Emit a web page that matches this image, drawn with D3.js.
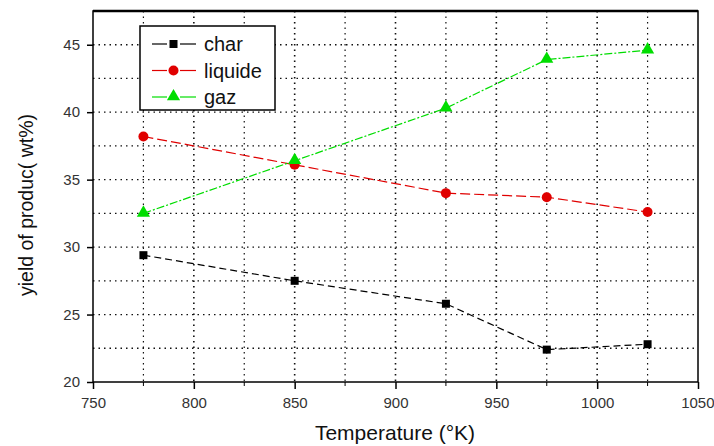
<!DOCTYPE html>
<html>
<head>
<meta charset="utf-8">
<script src="https://cdn.jsdelivr.net/npm/d3@7"></script>
<style>
  body { margin: 0; background: #fff; }
  text { font-family: "Liberation Sans", Arial, sans-serif; }
</style>
</head>
<body>
<svg id="chart" width="714" height="446"></svg>
<script>
// values
const temperatures = [775, 850, 925, 975, 1025];
const charValues = [29.4, 27.5, 25.8, 22.4, 22.8];
const liquideValues = [38.2, 36.1, 34.0, 33.7, 32.6];
const gazValues = [32.5, 36.4, 40.3, 43.9, 44.6];
const xTicks = [750, 800, 850, 900, 950, 1000, 1050];
const yTicks = [20, 25, 30, 35, 40, 45];

const series = [
    {name: "char", values: charValues, color: "#000000", dash: "7,4", marker: "square"},
    {name: "liquide", values: liquideValues, color: "#e00000", dash: "10,4", marker: "circle"},
    {name: "gaz", values: gazValues, color: "#00dd00", dash: "8,2,2,2", marker: "triangle"}
];

const svg = d3.select("#chart");
const margin = {top: 11, right: 16, bottom: 64, left: 93};
const width = 714 - margin.left - margin.right;
const height = 446 - margin.top - margin.bottom;

const g = svg.append("g")
    .attr("transform", "translate(" + margin.left + "," + margin.top + ")");

const x = d3.scaleLinear().domain([750, 1050]).range([0, width]);
const y = d3.scaleLinear().domain([20, 47.5]).range([height, 0]);

// dotted grid, every half step
const xGrid = d3.range(775, 1050, 25);
const yGrid = d3.range(22.5, 47.5, 2.5);

g.selectAll(".vgrid").data(xGrid).enter().append("line")
    .attr("x1", d => x(d)).attr("x2", d => x(d))
    .attr("y1", 0).attr("y2", height)
    .attr("stroke", "#111")
    .attr("stroke-width", d => d % 50 === 0 ? 1.6 : 1.2)
    .attr("stroke-dasharray", "1.5,4");

g.selectAll(".hgrid").data(yGrid).enter().append("line")
    .attr("x1", 0).attr("x2", width)
    .attr("y1", d => y(d)).attr("y2", d => y(d))
    .attr("stroke", "#111")
    .attr("stroke-width", 1.3)
    .attr("stroke-dasharray", "1.5,4");

// frame
g.append("rect")
    .attr("width", width).attr("height", height)
    .attr("fill", "none").attr("stroke", "#000").attr("stroke-width", 1.5);
g.append("line").attr("x1", 0).attr("x2", width).attr("y1", 0).attr("y2", 0)
    .attr("stroke", "#000").attr("stroke-width", 2.5);

// axes
const xAxis = d3.axisBottom(x).tickValues(xTicks).tickFormat(d3.format("d")).tickSize(7).tickPadding(8);
const yAxis = d3.axisLeft(y).tickValues(yTicks).tickFormat(d3.format("d")).tickSize(6).tickPadding(7);

const gx = g.append("g").attr("transform", "translate(0," + height + ")").call(xAxis);
const gy = g.append("g").call(yAxis);
[gx, gy].forEach(a => {
    a.select(".domain").remove();
    a.selectAll("line").attr("stroke", "#000").attr("stroke-width", 1.5);
    a.selectAll("text").attr("font-size", 15).attr("fill", "#333")
        .style("font-family", "'Liberation Sans', Arial, sans-serif");
});
gx.selectAll("text").filter(d => d === 1050).attr("text-anchor", "end").attr("dx", 16);

// minor x ticks
g.selectAll(".minor").data(d3.range(775, 1050, 50)).enter().append("line")
    .attr("x1", d => x(d)).attr("x2", d => x(d))
    .attr("y1", height).attr("y2", height + 4)
    .attr("stroke", "#000").attr("stroke-width", 1);

// axis titles
svg.append("text")
    .attr("x", 395).attr("y", 440)
    .attr("text-anchor", "middle")
    .attr("font-size", 21)
    .attr("fill", "#111")
    .text("Temperature (°K)");

svg.append("text")
    .attr("transform", "translate(33,205) rotate(-90)")
    .attr("text-anchor", "middle")
    .attr("font-size", 19.5)
    .attr("fill", "#111")
    .text("yield of produc( wt%)");

function drawMarker(sel, type, color, cx, cy) {
    if (type === "square") {
        sel.append("rect").attr("x", cx - 4).attr("y", cy - 4)
            .attr("width", 8).attr("height", 8).attr("fill", color);
    } else if (type === "circle") {
        sel.append("circle").attr("cx", cx).attr("cy", cy).attr("r", 5).attr("fill", color);
    } else {
        sel.append("path")
            .attr("d", d3.symbol().type(d3.symbolTriangle).size(75)())
            .attr("transform", "translate(" + cx + "," + (cy - 0.5) + ")")
            .attr("fill", color);
    }
}

const line = d3.line().x(d => x(d.t)).y(d => y(d.v));

series.forEach(s => {
    const pts = temperatures.map((t, i) => ({t: t, v: s.values[i]}));
    g.append("path")
        .datum(pts)
        .attr("d", line)
        .attr("fill", "none")
        .attr("stroke", s.color)
        .attr("stroke-width", 1.2)
        .attr("stroke-dasharray", s.dash);
    const mg = g.append("g");
    pts.forEach(p => drawMarker(mg, s.marker, s.color, x(p.t), y(p.v)));
});

// legend
const legend = svg.append("g").attr("transform", "translate(140,26)");
legend.append("rect")
    .attr("width", 135).attr("height", 84)
    .attr("fill", "#fff").attr("stroke", "#000").attr("stroke-width", 1.5);

series.forEach((s, i) => {
    const ly = 18 + i * 26.5;
    const row = legend.append("g");
    row.append("line").attr("x1", 12).attr("x2", 27).attr("y1", ly).attr("y2", ly)
        .attr("stroke", s.color).attr("stroke-width", 1.2);
    row.append("line").attr("x1", 40).attr("x2", 56).attr("y1", ly).attr("y2", ly)
        .attr("stroke", s.color).attr("stroke-width", 1.2);
    drawMarker(row, s.marker, s.color, 33.5, ly);
    row.append("text").attr("x", 64).attr("y", ly + 7)
        .attr("font-size", 20).attr("fill", "#111")
        .text(s.name);
});
</script>
</body>
</html>
